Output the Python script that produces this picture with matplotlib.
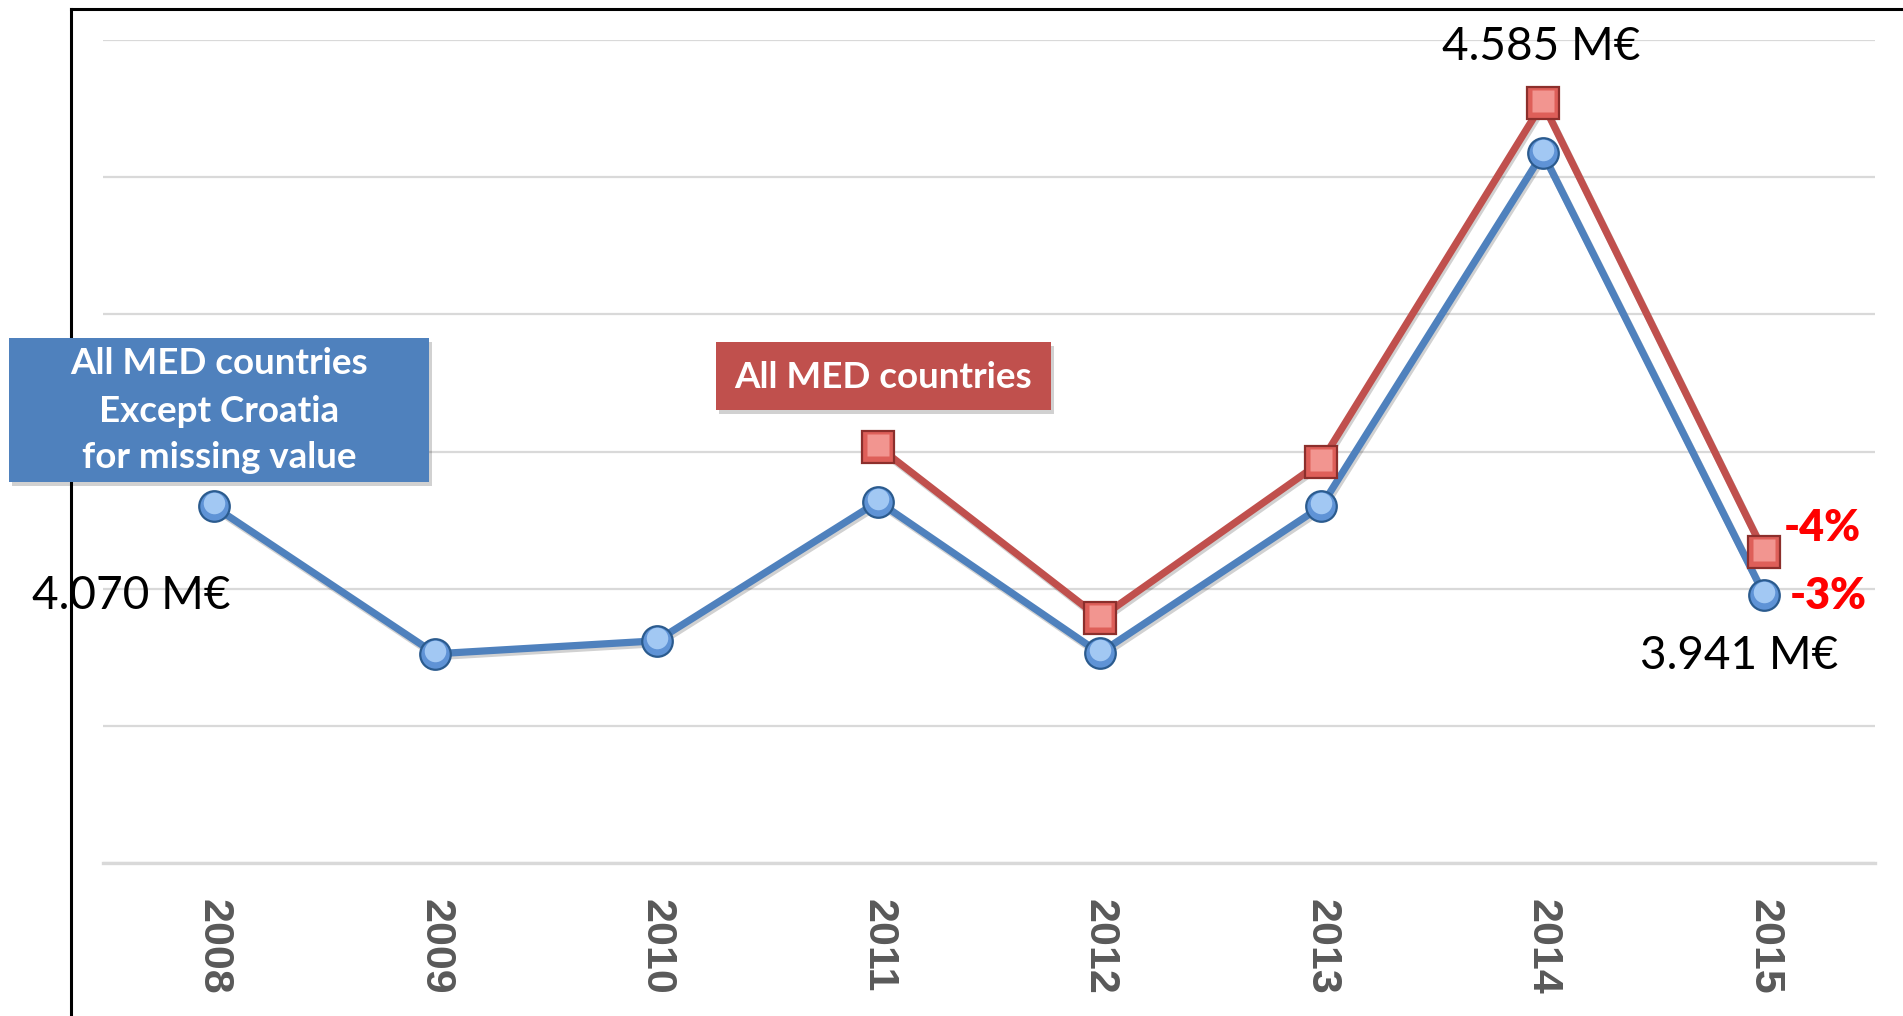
import matplotlib
matplotlib.use("Agg")
import matplotlib.pyplot as plt
import matplotlib.patheffects as pe
from matplotlib import font_manager, transforms
from matplotlib.patches import Rectangle

years = ["2008", "2009", "2010", "2011", "2012", "2013", "2014", "2015"]
blue_vals = [4070, 3855, 3874, 4077, 3856, 4070, 4585, 3941]
red_years_idx = [3, 4, 5, 6, 7]
red_vals = [4157, 3907, 4135, 4658, 4003]
grid_vals = [3550, 3750, 3950, 4150, 4350, 4550, 4750]

blue_box_lines = ["All MED countries", "Except Croatia", "for missing value"]
red_box_text = "All MED countries"
lbl_2014 = "4.585 M€"
lbl_2015 = "3.941 M€"
lbl_2008 = "4.070 M€"
pct_red = "-4%"
pct_blue = "-3%"

W, H = 1903, 1016
DPI = 100

def has_font(name):
    try:
        font_manager.findfont(font_manager.FontProperties(family=name), fallback_to_default=False)
        return True
    except Exception:
        return False

narrow = has_font("Liberation Sans Narrow")
year_family = "Liberation Sans Narrow" if narrow else "Liberation Sans"
year_size = 40 if narrow else 31
txt_family = ["Lato", "DejaVu Sans"]

BLUE = "#4F81BD"
RED = "#C0504D"

fig = plt.figure(figsize=(W / DPI, H / DPI), dpi=DPI)
fig.patch.set_facecolor("white")

def fx(px):
    return px / W

def fy(py):
    return 1 - py / H

# outer frame (left + top border)
frame = fig.add_axes([fx(71), 0, 1 - fx(71) + 0.01, fy(9)])
frame.set_xticks([]); frame.set_yticks([])
frame.patch.set_alpha(0)
for s in ["right", "bottom"]:
    frame.spines[s].set_visible(False)
for s in ["left", "top"]:
    frame.spines[s].set_linewidth(2.2)
    frame.spines[s].set_color("black")

ax = fig.add_axes([fx(103), fy(863), fx(1875) - fx(103), fy(40) - fy(863)])
ax.patch.set_alpha(0)
x = list(range(len(years)))
ax.set_xlim(-0.5, len(years) - 0.5)
ax.set_ylim(grid_vals[0], grid_vals[-1])
ax.set_yticks(grid_vals)
ax.yaxis.grid(True, color="#D9D9D9", linewidth=1.6)
ax.set_axisbelow(True)
ax.tick_params(axis="y", length=0, labelleft=False)
for s in ["left", "right", "top"]:
    ax.spines[s].set_visible(False)
ax.spines["bottom"].set_color("#D9D9D9")
ax.spines["bottom"].set_linewidth(2.4)
ax.set_xticks(x)
ax.set_xticklabels(years, rotation=270, fontweight="bold", color="#595959",
                   family=year_family, fontsize=year_size)
ax.tick_params(axis="x", length=0, pad=26)

shadow = [pe.SimpleLineShadow(offset=(1.2, -2.0), alpha=0.18, shadow_color="black"), pe.Normal()]

rx = [x[i] for i in red_years_idx]
ax.plot(x, blue_vals, color=BLUE, lw=5.2, solid_joinstyle="round", zorder=3, path_effects=shadow)
ax.plot(rx, red_vals, color=RED, lw=5.2, solid_joinstyle="round", zorder=4, path_effects=shadow)

ax.plot(x, blue_vals, ls="none", marker="o", ms=22, mfc="#5F93D6", mec="#2B5B8E", mew=1.6, zorder=5)
hl_b = transforms.offset_copy(ax.transData, fig=fig, x=0, y=3, units="dots")
ax.plot(x, blue_vals, ls="none", marker="o", ms=15.5, mfc="#A2C8F3", mec="none", zorder=6, transform=hl_b)
ax.plot(rx, red_vals, ls="none", marker="s", ms=22.5, mfc="#DE5F59", mec="#8C2F2C", mew=1.6, zorder=7)
hl_r = transforms.offset_copy(ax.transData, fig=fig, x=0, y=2, units="dots")
ax.plot(rx, red_vals, ls="none", marker="s", ms=15.5, mfc="#F29590", mec="none", zorder=8, transform=hl_r)

def pt(px):
    return px * 72 / DPI

ax.annotate(lbl_2014, (rx[3], red_vals[3]), xytext=(pt(-2), pt(56)), textcoords="offset points",
            ha="center", va="center", fontsize=33, family=txt_family, color="black", zorder=10)
ax.annotate(lbl_2015, (x[7], blue_vals[7]), xytext=(pt(-25), pt(-61)), textcoords="offset points",
            ha="center", va="center", fontsize=33, family=txt_family, color="black", zorder=10)
ax.annotate(lbl_2008, (x[0], blue_vals[0]), xytext=(pt(-82), pt(-90)), textcoords="offset points",
            ha="center", va="center", fontsize=33, family=txt_family, color="black", zorder=10,
            annotation_clip=False)
ax.annotate(pct_red, (rx[4], red_vals[4]), xytext=(pt(20), pt(24)), textcoords="offset points",
            ha="left", va="center", fontsize=31, fontweight="heavy", family=txt_family, color="#FF0000", zorder=10)
ax.annotate(pct_blue, (x[7], blue_vals[7]), xytext=(pt(25), pt(-1)), textcoords="offset points",
            ha="left", va="center", fontsize=31, fontweight="heavy", family=txt_family, color="#FF0000", zorder=10)

# boxes
def box(x0, y0, x1, y1, color):
    sh = Rectangle((fx(x0 + 3), fy(y1 + 4)), fx(x1) - fx(x0), fy(y0) - fy(y1),
                   transform=fig.transFigure, facecolor="black", alpha=0.18, edgecolor="none", zorder=19)
    fig.add_artist(sh)
    r = Rectangle((fx(x0), fy(y1)), fx(x1) - fx(x0), fy(y0) - fy(y1),
                  transform=fig.transFigure, facecolor=color, edgecolor="none", zorder=20)
    fig.add_artist(r)

box(9, 338, 429, 482, BLUE)
for i, line in enumerate(blue_box_lines):
    fig.text(fx(219), fy(364 + 47 * i), line, ha="center", va="center", fontsize=26.5,
             fontweight="bold", family=txt_family, color="white", zorder=21)

box(716, 342, 1051, 410, RED)
fig.text(fx(883), fy(377), red_box_text, ha="center", va="center", fontsize=26.5,
         fontweight="bold", family=txt_family, color="white", zorder=21)

fig.savefig("out.png", dpi=DPI, facecolor="white")
